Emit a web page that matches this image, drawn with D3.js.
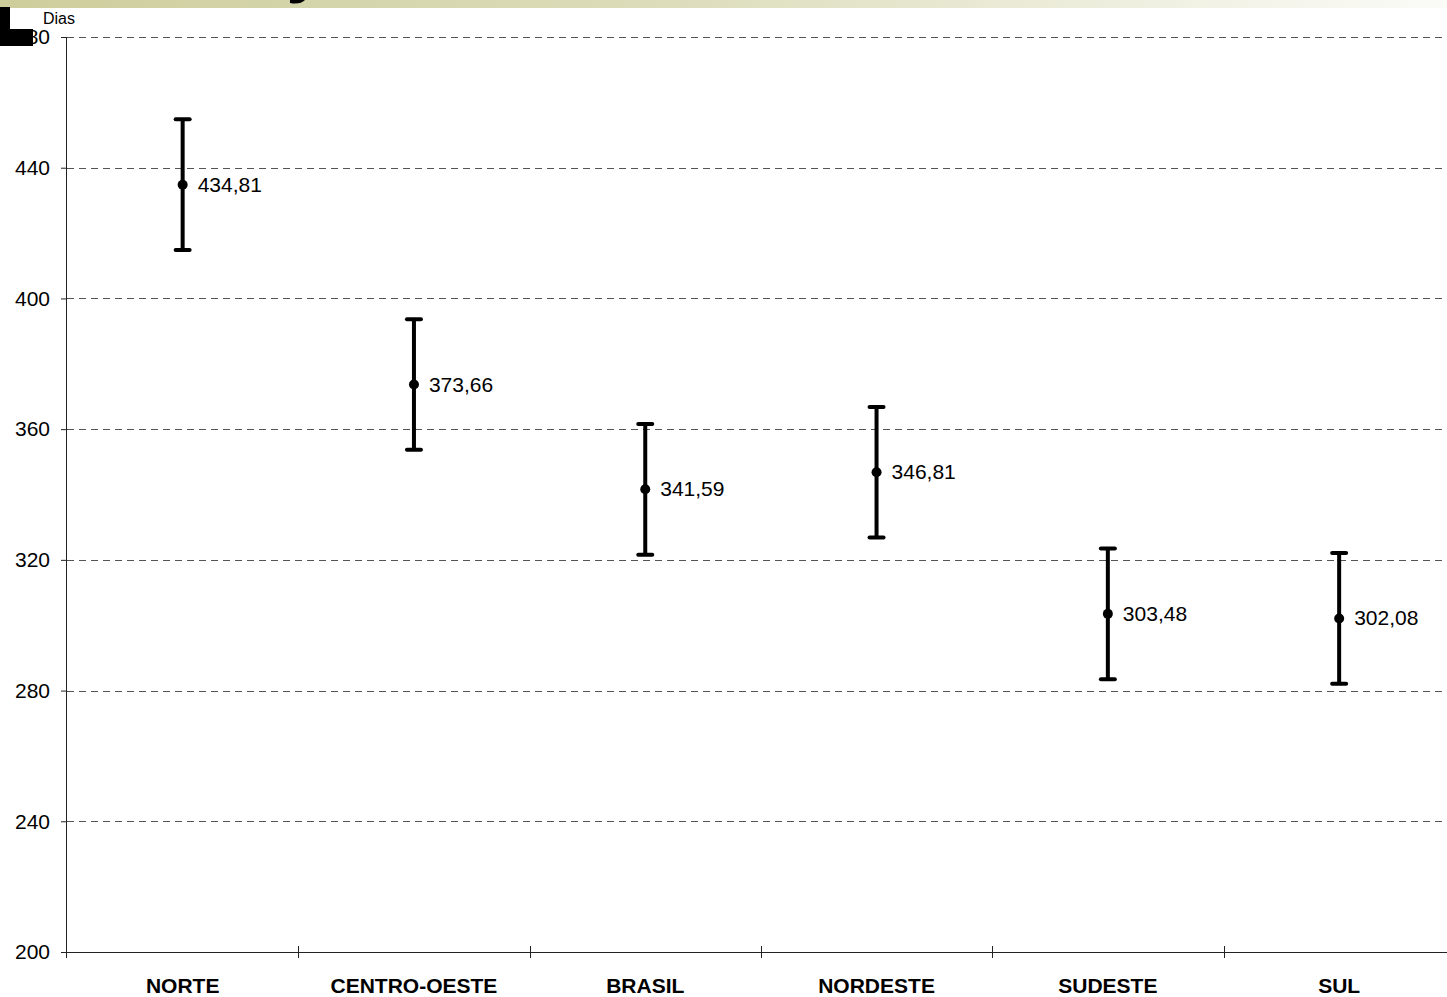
<!DOCTYPE html>
<html><head><meta charset="utf-8">
<script src="https://cdn.jsdelivr.net/npm/d3@7"></script>
<style>body{margin:0;background:#fff;overflow:hidden}svg{display:block;font-family:Arial,"Liberation Sans",sans-serif}</style>
</head><body>
<script>
const categories = ["NORTE","CENTRO-OESTE","BRASIL","NORDESTE","SUDESTE","SUL"];
const means = [434.81, 373.66, 341.59, 346.81, 303.48, 302.08];
const errors = [20, 20, 20, 20, 20, 20];
const meanLabels = ["434,81","373,66","341,59","346,81","303,48","302,08"];
const yTicks = [200, 240, 280, 320, 360, 400, 440, 480];
const yTickLabels = ["200","240","280","320","360","400","440","480"];

(function(){
const W = 1447, H = 997;
const svg = d3.select("body").append("svg").attr("width", W).attr("height", H);

// header band
const defs = svg.append("defs");
const grad = defs.append("linearGradient").attr("id","band");
grad.append("stop").attr("offset","0%").attr("stop-color","#cdcd9c");
grad.append("stop").attr("offset","45%").attr("stop-color","#dcdcba");
grad.append("stop").attr("offset","100%").attr("stop-color","#fbfbf8");
svg.append("rect").attr("x",0).attr("y",0).attr("width",W).attr("height",8).attr("fill","url(#band)");
svg.append("path").attr("d","M290,0 L305,0 Q300,5 290,3 Z").attr("fill","#000");

const mLeft = 67, mTop = 37, mBottom = 952;
const step = 231.3;
const x = d3.scaleBand().domain(categories).range([mLeft, mLeft + step*categories.length]);
const y = d3.scaleLinear().domain([200, 480]).range([mBottom, mTop]);

// gridlines
svg.append("g").selectAll("line").data(yTicks.filter(t => t > 200)).join("line")
  .attr("x1", mLeft).attr("x2", W).attr("y1", d => Math.round(y(d)) + 0.5).attr("y2", d => Math.round(y(d)) + 0.5)
  .attr("stroke", "#555").attr("stroke-width", 1).attr("stroke-dasharray", "7,5");

// y axis
const yAxis = d3.axisLeft(y).tickValues(yTicks).tickFormat((d,i) => yTickLabels[i]).tickSize(6).tickPadding(11);
const gy = svg.append("g").attr("transform", `translate(${mLeft},0)`).call(yAxis);
gy.select(".domain").attr("stroke","#222").attr("d", `M-0.5,${mTop}V${mBottom+6}`);
gy.selectAll(".tick line").attr("stroke","#222");
gy.selectAll(".tick text").attr("font-size", 21).attr("fill","#000").attr("font-family","Arial, 'Liberation Sans', sans-serif");

// x axis
const gx = svg.append("g").attr("transform", `translate(0,${mBottom})`);
gx.append("line").attr("x1", mLeft).attr("x2", W).attr("y1", 0.5).attr("y2", 0.5).attr("stroke", "#222");
gx.selectAll("line.tk").data(categories.slice(1)).join("line").attr("class","tk")
  .attr("x1", d => Math.round(x(d)) + 0.5).attr("x2", d => Math.round(x(d)) + 0.5).attr("y1", -6).attr("y2", 6).attr("stroke","#222");
gx.selectAll("text").data(categories).join("text")
  .attr("x", d => x(d) + x.bandwidth()/2).attr("y", 41)
  .attr("text-anchor","middle").attr("font-size", 21).attr("font-weight","bold").text(d => d);

// error bars
const g = svg.append("g");
categories.forEach((c, i) => {
  const cx = x(c) + x.bandwidth()/2;
  const hi = y(means[i] + errors[i]), lo = y(means[i] - errors[i]);
  g.append("line").attr("x1",cx).attr("x2",cx).attr("y1",hi).attr("y2",lo).attr("stroke","#000").attr("stroke-width",4);
  [hi, lo].forEach(v => g.append("line").attr("x1",cx-7).attr("x2",cx+7).attr("y1",v).attr("y2",v)
    .attr("stroke","#000").attr("stroke-width",4).attr("stroke-linecap","round"));
  g.append("circle").attr("cx",cx).attr("cy",y(means[i])).attr("r",5).attr("fill","#000");
  g.append("text").attr("x",cx+15).attr("y",y(means[i])+7).attr("font-size",21).text(meanLabels[i]);
});

// y title and logo block
svg.append("text").attr("x",43).attr("y",24).attr("font-size",16).text("Dias");
svg.append("path").attr("d","M0,7 H10 V29 H33 V46 H0 Z").attr("fill","#000");
})();
</script>
</body></html>
